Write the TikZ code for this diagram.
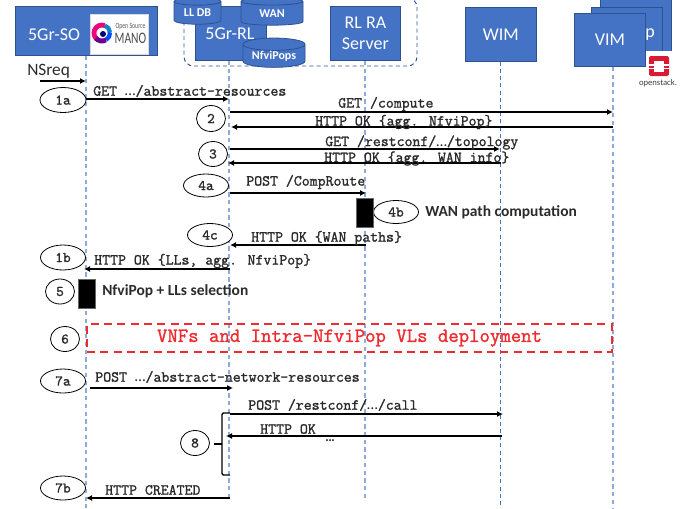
\documentclass[tikz,border=0pt]{standalone}
\usepackage{fontspec}
\setmainfont{Carlito}
\newfontfamily\courish{Latin Modern Mono}[FakeBold=1.4]
\usetikzlibrary{shapes.geometric,arrows.meta}
\definecolor{boxblue}{HTML}{4472C4}
\definecolor{boxedge}{HTML}{2F528F}
\definecolor{lifelight}{HTML}{8FAADC}
\definecolor{dashred}{HTML}{F02B30}
\definecolor{txt}{HTML}{2B2B2B}
\definecolor{osred}{HTML}{DA1A32}
\tikzset{
 actor/.style={draw=boxedge,line width=.6pt,fill=boxblue,text=white,align=center,font=\fontsize{13.5}{16}\selectfont,inner sep=0pt},
 db/.style={cylinder,shape border rotate=90,aspect=.28,draw=boxedge,line width=.6pt,fill=boxblue,text=white,font=\bfseries\fontsize{9}{10}\selectfont,inner sep=0pt},
 life/.style={lifelight,line width=1pt,dash pattern=on 3.2pt off 2.6pt},
 lifedark/.style={boxblue,line width=.7pt,dash pattern=on 3pt off 2.4pt},
 msg/.style={line width=1.1pt,black,-{Latex[length=4.5pt,width=4.5pt]}},
 msglabel/.style={font=\courish\fontsize{11.55}{13}\selectfont,text=txt,anchor=west,inner sep=0pt,yshift=-.75pt},
 stepnum/.style={ellipse,draw=black,line width=.6pt,fill=white,font=\courish\fontsize{11}{12}\selectfont,text=txt,inner sep=0pt},
 note/.style={font=\bfseries\fontsize{11.6}{13}\selectfont,text=txt,anchor=west,inner sep=0pt},
 busy/.style={fill=black,draw=black!60,line width=.3pt,inner sep=0pt},
 bigwhite/.style={text=white,font=\fontsize{13.5}{16}\selectfont,inner sep=0pt}
}
\newcommand{\nel}{{\rmfamily\mdseries …}}
\begin{document}
\begin{tikzpicture}[x=.75pt,y=-.75pt]
\useasboundingbox (0,0) rectangle (691,508);
\fill[white] (0,0) rectangle (691,508);
% lifeline anchors
\coordinate (soE) at (86,508); \coordinate (rlE) at (229,501); \coordinate (srvE) at (365,501);
\coordinate (wimE) at (500,508); \coordinate (vimE) at (613,508);
% actors
\draw[boxblue!75!black,line width=.7pt,dash pattern=on 3pt off 2.4pt,rounded corners=7pt] (184,-2) rectangle (417,66);
\node[actor,minimum width=106.5pt,minimum height=36.75pt,anchor=north west] (so) at (15,6) {};
\node[bigwhite] (solabel) at (54,35) {5Gr-SO};
\node[actor,minimum width=53.25pt,minimum height=40.5pt,anchor=north west] (rl) at (195,6) {};
\node[bigwhite] (rllabel) at (230,34) {5Gr-RL};
\node[actor,minimum width=52.5pt,minimum height=40.5pt,anchor=north west] (srv) at (330,6) {RL RA\\Server};
\node[actor,minimum width=53.25pt,minimum height=40.5pt,anchor=north west] (wim) at (465,7) {WIM};
\node[actor,minimum width=53.25pt,minimum height=42pt,anchor=north west] (vim3) at (600,-3) {};
\node[actor,minimum width=53.25pt,minimum height=39.75pt,anchor=north west] (vim2) at (591,7) {};
\node[bigwhite] (vimp) at (650,35) {p};
\fill[white] (639,51) rectangle (685,92);
\node[actor,minimum width=53.25pt,minimum height=39.75pt,anchor=north west] (vim) at (574,13) {VIM};
% databases
\node[db,minimum width=35.25pt,minimum height=20pt] (lldb) at (197.5,13) {LL DB};
\node[db,minimum width=46.5pt,minimum height=20.5pt] (wan) at (272,13.5) {WAN};
\node[db,minimum width=46.5pt,minimum height=21pt] (nfvi) at (274,56) {NfviPops};
% lifelines
\draw[life] (so.south -| soE) -- (soE);
\draw[life] (rl.south -| rlE) -- (rlE);
\draw[life] (srv.south -| srvE) -- (srvE);
\draw[lifedark] (wim.south -| wimE) -- (wimE);
\draw[life] (vim.south -| vimE) -- (vimE);
% MANO logo
\node[fill=white,draw=black!15,line width=.2pt,minimum width=43.5pt,minimum height=30pt,anchor=north west,inner sep=0pt] (logo) at (90,13.5) {};
\coordinate (mc) at (102,33);
\draw[line width=3.2pt,color=cyan!65!blue] ([shift={(-70:8)}]mc) arc (-70:-5:8);
\draw[line width=3.2pt,color=blue!70!cyan] ([shift={(-5:8)}]mc) arc (-5:60:8);
\draw[line width=3.6pt,color=magenta!85!red] ([shift={(-70:8)}]mc) arc (-70:-240:8);
\draw[line width=3.6pt,color=violet!85!blue] ([shift={(60:8)}]mc) arc (60:140:8);
\fill[blue!45!black] ([shift={(1,1)}]mc) circle (3);
\node[inner sep=0pt,font=\fontsize{6}{7}\selectfont,text=black!65] (ossrc) at (130.5,27) {\scalebox{.72}[1]{Open Source}};
\node[inner sep=0pt,font=\fontsize{12}{14}\selectfont,text=black!70] (manot) at (130.5,38) {\scalebox{.72}[1]{MANO}};
% openstack logo
\fill[osred,rounded corners=1.2pt] (649,56) rectangle (669,76);
\fill[white] (654,60.5) rectangle (664,71.5);
\fill[white] (649,63.5) rectangle (654,65.5);
\fill[white] (664,63.5) rectangle (669,65.5);
\fill[white] (649,67.5) rectangle (654,68.5);
\fill[white] (664,67.5) rectangle (669,68.5);
\node[inner sep=0pt,font=\fontsize{6.5}{7}\selectfont,text=black!75] (ostxt) at (658,83) {openstack.};
% steps
\node[font=\fontsize{13}{15}\selectfont,text=txt,inner sep=0pt,anchor=west] (nsreq) at (27,71.5) {NSreq};
\coordinate (nsS) at (40,81); \coordinate (nsT) at (86,81);
\draw[msg,line width=.9pt] (nsS) -- (nsT);
\node[stepnum,minimum width=34.5pt,minimum height=18.75pt] (s1a) at (63,100) {1a};
\node[stepnum,minimum width=21.75pt,minimum height=19.5pt] (s2) at (211,118.5) {2};
\node[stepnum,minimum width=21.75pt,minimum height=18.75pt] (s3) at (213,154) {3};
\node[stepnum,minimum width=33.75pt,minimum height=17.25pt] (s4a) at (206,185.5) {4a};
\node[stepnum,minimum width=33.75pt,minimum height=17.25pt] (s4b) at (396,212) {4b};
\node[stepnum,minimum width=33.75pt,minimum height=17.25pt] (s4c) at (210,235) {4c};
\node[stepnum,minimum width=33.75pt,minimum height=18.75pt] (s1b) at (63,257.5) {1b};
\node[stepnum,minimum width=21.75pt,minimum height=18.75pt] (s5) at (60,291.5) {5};
\node[stepnum,minimum width=21.75pt,minimum height=18.75pt] (s6) at (65,339) {6};
\node[stepnum,minimum width=33.75pt,minimum height=18pt] (s7a) at (63,381) {7a};
\node[stepnum,minimum width=21.75pt,minimum height=18.75pt] (s8) at (195,443) {8};
\node[stepnum,minimum width=33.75pt,minimum height=18pt] (s7b) at (63,488) {7b};
% activation bars
\node[busy,minimum width=12.75pt,minimum height=21.75pt,anchor=north west] (b4) at (356,198) {};
\node[busy,minimum width=12.75pt,minimum height=21.75pt,anchor=north west] (b5) at (78,279) {};
% message anchors
\coordinate (a1) at (86,99); \coordinate (b1) at (229,99);
\coordinate (a2) at (230,112); \coordinate (b2) at (613,112);
\coordinate (c2) at (613,127); \coordinate (d2) at (231,127);
\coordinate (a3) at (230,149); \coordinate (b3) at (500,149);
\coordinate (c3) at (501,163); \coordinate (d3) at (228,163);
\coordinate (a4) at (230,193); \coordinate (b4t) at (366,193);
\coordinate (c4) at (366,245); \coordinate (d4) at (230,245);
\coordinate (a1b) at (230,269); \coordinate (b1b) at (84,269);
\coordinate (a7) at (90,388); \coordinate (b7) at (233,388);
\coordinate (a9) at (230,414); \coordinate (b9) at (503,414);
\coordinate (c9) at (502,436); \coordinate (d9) at (226,436);
\coordinate (a7b) at (230,498); \coordinate (b7b) at (86,498);
\draw[msg] (a1) -- (b1);
\draw[msg] (a2) -- (b2);
\draw[msg] (c2) -- (d2);
\draw[msg] (a3) -- (b3);
\draw[msg] (c3) -- (d3);
\draw[msg] (a4) -- (b4t);
\draw[msg] (c4) -- (d4);
\draw[msg] (a1b) -- (b1b);
\draw[msg] (a7) -- (b7);
\draw[msg] (a9) -- (b9);
\draw[msg] (c9) -- (d9);
\draw[msg] (a7b) -- (b7b);
% message labels
\node[msglabel] (l1) at (93,90) {GET \nel/abstract-resources};
\node[msglabel] (l2) at (338,103) {GET /compute};
\node[msglabel] (l3) at (315,121) {HTTP OK \{agg. NfviPop\}};
\node[msglabel] (l4) at (325,141.5) {GET /restconf/\nel/topology};
\node[msglabel] (l5) at (324,157.5) {HTTP OK \{agg. WAN info\}};
\node[msglabel] (l6) at (246,181) {POST /CompRoute};
\node[msglabel] (l7) at (251,237) {HTTP OK \{WAN paths\}};
\node[msglabel] (l8) at (94,260) {HTTP OK \{LLs, agg. NfviPop\}};
\node[msglabel] (l9) at (95,376) {POST \nel/abstract-network-resources};
\node[msglabel] (l10) at (248,404) {POST /restconf/\nel/call};
\node[msglabel] (l11) at (260,428) {HTTP OK};
\node[inner sep=0pt,font=\bfseries\fontsize{10}{12}\selectfont,text=txt] (l12) at (330,441) {…};
\node[msglabel] (l13) at (105,489) {HTTP CREATED};
\node[note] (n4b) at (425,212) {WAN path computation};
\node[note] (n5) at (102,291.5) {NfviPop + LLs selection};
% deployment band
\node[draw=dashred,line width=1.4pt,dash pattern=on 6pt off 4pt,minimum width=393.75pt,minimum height=21.25pt,inner sep=0pt,text=dashred,font=\courish\fontsize{15.15}{17}\selectfont] (band) at (349.5,338) {VNFs and Intra-NfviPop VLs deployment};
% bracket for step 8
\coordinate (br1) at (230,413); \coordinate (br2) at (230,475);
\coordinate (brc) at (222,444); \coordinate (brt) at (214,444);
\draw[line width=1pt,rounded corners=1pt] (br1) -| (brc) |- (br2);
\draw[line width=1.2pt] (brc) -- (brt);
\end{tikzpicture}
\end{document}
